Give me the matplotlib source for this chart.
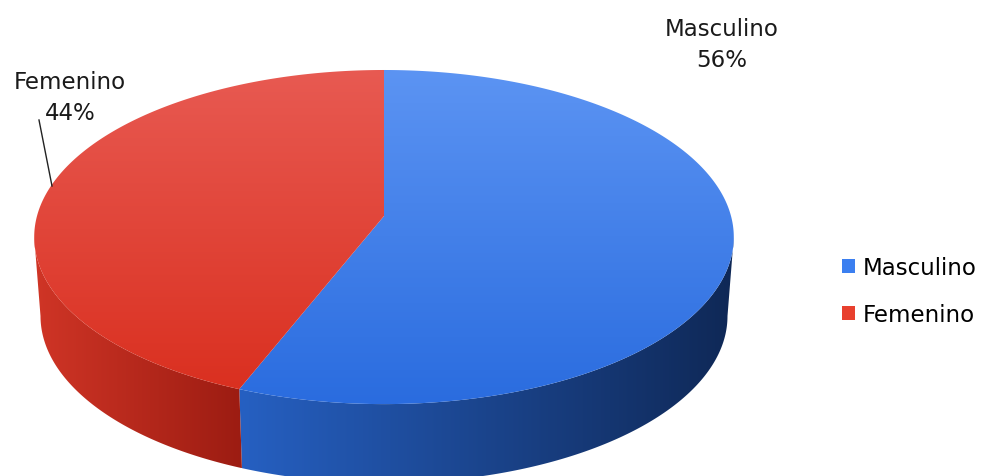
import numpy as np
import matplotlib.pyplot as plt
from matplotlib.patches import Polygon, Patch
from matplotlib.colors import LinearSegmentedColormap

# datos
etiquetas = ['Masculino', 'Femenino']
valores = [56, 44]

# colores (arriba, abajo) de la tapa y (izq, der) del costado
tapa = [('#5c94f3', '#2a6cdf'), ('#e85a52', '#da3020')]
costado = [('#2660c2', '#0f2856'), ('#d03526', '#9c1c12')]
leyenda = ['#3b7ff0', '#e8402e']

# geometria de la torta en pixeles, con algo de perspectiva
cx, cy = 384, 217      # centro de la torta
a, b = 347, 164.4      # semiejes
k = 0.126              # perspectiva (lo de adelante se ve mas grande)
prof = 79              # alto del costado
esc = 0.982            # el borde de abajo se achica un poco

# angulos donde el borde es mas ancho (silueta del costado)
lim = np.degrees(np.arcsin(k))
izq, der = -180 + lim, -lim


def borde(t, abajo=False):
    t = np.radians(t)
    c, s = np.cos(t), np.sin(t)
    w = 1 + k * s
    x = a * c / w
    y = -b * s / w
    if abajo:
        x = x * esc
        y = y + prof
    return np.column_stack([cx + x, cy + y])


def relleno(ax, verts, c1, c2, horizontal=False, z=1):
    poly = Polygon(verts, closed=True, facecolor='none', edgecolor='none')
    ax.add_patch(poly)
    cmap = LinearSegmentedColormap.from_list('g', [c1, c2])
    g = np.linspace(0, 1, 256)
    img = g[None, :] if horizontal else g[:, None]
    xs, ys = verts[:, 0], verts[:, 1]
    im = ax.imshow(img, cmap=cmap, aspect='auto', interpolation='bilinear',
                   extent=(xs.min(), xs.max(), ys.max(), ys.min()), zorder=z)
    im.set_clip_path(poly)


fig = plt.figure(figsize=(9.84, 4.77), dpi=100)
ax = fig.add_axes([0, 0, 1, 1])

total = sum(valores)
inicio = 90.0
for i, v in enumerate(valores):
    fin = inicio - 360.0 * v / total
    # tapa
    t = np.linspace(inicio, fin, 300)
    verts = np.vstack([[cx, cy], borde(t)])
    relleno(ax, verts, tapa[i][0], tapa[i][1], z=2)
    # costado visible (parte delantera)
    for desp in (0, -360, 360):
        lo = max(fin + desp, izq)
        hi = min(inicio + desp, der)
        if hi > lo:
            t = np.linspace(hi, lo, 300)
            verts = np.vstack([borde(t), borde(t[::-1], abajo=True)])
            relleno(ax, verts, costado[i][0], costado[i][1], horizontal=True, z=1)
    inicio = fin

# etiquetas
fuente = dict(family='DejaVu Sans', fontsize=16.5, color='#1a1a1a',
              ha='center', va='center', linespacing=1.4)
ax.text(722, 45, 'Masculino\n56%', **fuente)
ax.text(70, 98, 'Femenino\n44%', **fuente)
ax.plot([39, 52], [121, 187], color='#222222', lw=1, zorder=3)

handles = [Patch(facecolor=c, edgecolor='none') for c in leyenda]
ax.legend(handles, etiquetas, loc='center left', bbox_to_anchor=(0.8557, 0.388),
          frameon=False, borderpad=0, borderaxespad=0, handlelength=0.565,
          handleheight=0.565, handletextpad=0.35, labelspacing=1.03,
          prop=dict(family='DejaVu Sans', size=16.5))

ax.set_xlim(0, 984)
ax.set_ylim(477, 0)
ax.axis('off')
plt.savefig('out.png', dpi=100)
